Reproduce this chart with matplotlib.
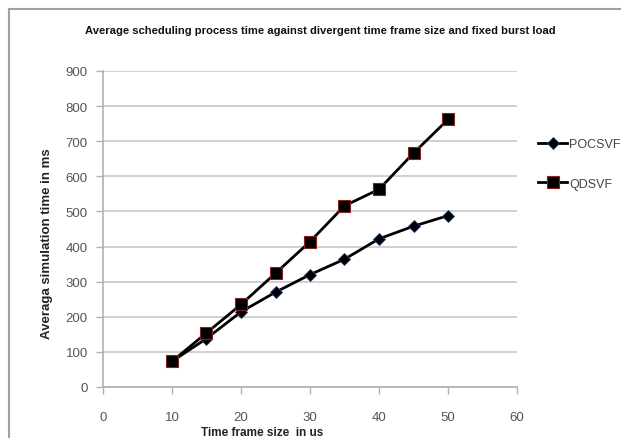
import matplotlib
matplotlib.use("Agg")
import matplotlib.pyplot as plt
from matplotlib.patches import Rectangle

x_vals = [10, 15, 20, 25, 30, 35, 40, 45, 50]
pocsvf = [73, 138, 214, 270, 320, 364, 422, 458, 488]
qdsvf = [73, 154, 235, 324, 414, 516, 563, 666, 762]
series_names = ["POCSVF", "QDSVF"]
title = "Average scheduling process time against divergent time frame size and fixed burst load"
xlabel = "Time frame size  in us"
ylabel = "Averaga simulation time in ms"

plt.rcParams['font.family'] = ['Liberation Sans', 'DejaVu Sans']

fig = plt.figure(figsize=(6.21, 4.39), dpi=100)
fig.patches.append(Rectangle((9/621, -0.05), 1.0, 1 - 10/439 + 0.05, transform=fig.transFigure,
                             fill=False, edgecolor='#a0a0a0', linewidth=1.5))

ax = fig.add_axes([103/621, 1 - 388/439, (517 - 103)/621, (388 - 72)/439])
ax.plot(x_vals, pocsvf, color='black', lw=2, marker='D', markersize=6,
        markerfacecolor='black', markeredgecolor='#1f3b6f', markeredgewidth=0.6, label=series_names[0])
ax.plot(x_vals, qdsvf, color='black', lw=2, marker='s', markersize=8,
        markerfacecolor='black', markeredgecolor='#8b2020', markeredgewidth=0.8, label=series_names[1])

ax.set_xlim(0, 60)
ax.set_ylim(0, 900)
ax.set_xticks(range(0, 61, 10))
ax.set_yticks(range(0, 901, 100))
ax.yaxis.grid(True, color='#c8c8c8', lw=1.2)
ax.set_axisbelow(True)
for s in ['top', 'right']:
    ax.spines[s].set_visible(False)
for s in ['left', 'bottom']:
    ax.spines[s].set_color('#b0b0b0')
    ax.spines[s].set_linewidth(1.2)
ax.tick_params(axis='both', colors='#b0b0b0', labelcolor='#555555', labelsize=9.5, length=5, width=1)
ax.tick_params(axis='x', pad=12)
ax.tick_params(axis='y', pad=6)

fig.text(320/621, 1 - 31/439, title, ha='center', va='center', fontsize=8.1, fontweight='bold',
         color='#111111')
fig.text(262/621, 1 - 433/439, xlabel, ha='center', va='center', fontsize=8.5, fontweight='bold', color='#222222')
fig.text(47/621, 1 - 244/439, ylabel, ha='center', va='center', rotation=90, fontsize=9.5, fontweight='bold', color='#222222')

leg = fig.legend(loc='upper left', bbox_to_anchor=(527/621, 1 - 128/439), frameon=False,
                 fontsize=9, handlelength=2.3, labelspacing=2.2, handletextpad=0.2)
for t in leg.get_texts():
    t.set_color('#444444')

fig.savefig("out.png", dpi=100)
